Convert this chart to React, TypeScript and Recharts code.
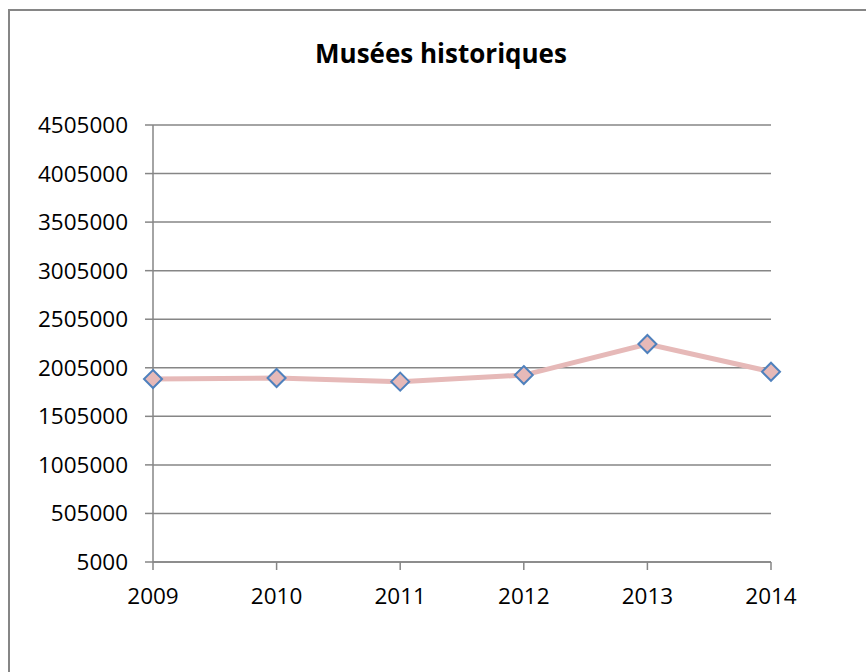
import React from 'react';
import { LineChart, Line, XAxis, YAxis, CartesianGrid } from 'recharts';

const years = ['2009', '2010', '2011', '2012', '2013', '2014'];
const visitors = [1889000, 1900000, 1862000, 1930000, 2250000, 1964000];
const yTicks = [5000, 505000, 1005000, 1505000, 2005000, 2505000, 3005000, 3505000, 4005000, 4505000];

const data = years.map((year, i) => ({ year, value: visitors[i] }));

const FONT = '"Open Sans", "Liberation Sans", sans-serif';
const GRID = '#868686';

// losange bleu rempli en rose, comme Excel
const Diamond = (props: any) => {
  const { cx, cy } = props;
  if (cx == null || cy == null) return null;
  const r = 9;
  return (
    <path
      d={`M${cx},${cy - r} L${cx + r},${cy} L${cx},${cy + r} L${cx - r},${cy} Z`}
      fill="#E6B9B8"
      stroke="#4F81BD"
      strokeWidth={2}
    />
  );
};

const App: React.FC = () => {
  return (
    <div style={{ position: 'absolute', left: 0, top: 0, width: 866, height: 672, overflow: 'hidden', background: '#fff' }}>
      {/* cadre du graphique, coupé à droite et en bas */}
      <div
        style={{
          position: 'absolute',
          left: 8,
          top: 9,
          width: 900,
          height: 700,
          borderTop: `2px solid ${GRID}`,
          borderLeft: `2px solid ${GRID}`,
        }}
      />
      <div
        style={{
          position: 'absolute',
          left: 241,
          top: 35,
          width: 400,
          textAlign: 'center',
          fontFamily: FONT,
          fontWeight: 700,
          fontSize: 26,
          lineHeight: '36px',
          color: '#000',
        }}
      >
        Musées historiques
      </div>
      <div style={{ position: 'absolute', left: 0, top: 0 }}>
        <LineChart width={866} height={672} data={data} margin={{ top: 125, right: 95, bottom: 0, left: 0 }}>
          <CartesianGrid vertical={false} stroke={GRID} strokeWidth={1.5} />
          <XAxis
            dataKey="year"
            height={110}
            interval={0}
            stroke={GRID}
            strokeWidth={1.5}
            tickSize={8}
            tickMargin={18}
            tick={{ fill: '#000', fontSize: 22.5, fontFamily: FONT }}
          />
          <YAxis
            width={153}
            domain={[5000, 4505000]}
            ticks={yTicks}
            interval={0}
            stroke={GRID}
            strokeWidth={1.5}
            tickSize={8}
            tickMargin={17}
            tick={{ fill: '#000', fontSize: 22.5, fontFamily: FONT }}
          />
          <Line
            dataKey="value"
            stroke="#E6B9B8"
            strokeWidth={5}
            dot={<Diamond />}
            activeDot={false}
            isAnimationActive={false}
          />
        </LineChart>
      </div>
    </div>
  );
};

export default App;
